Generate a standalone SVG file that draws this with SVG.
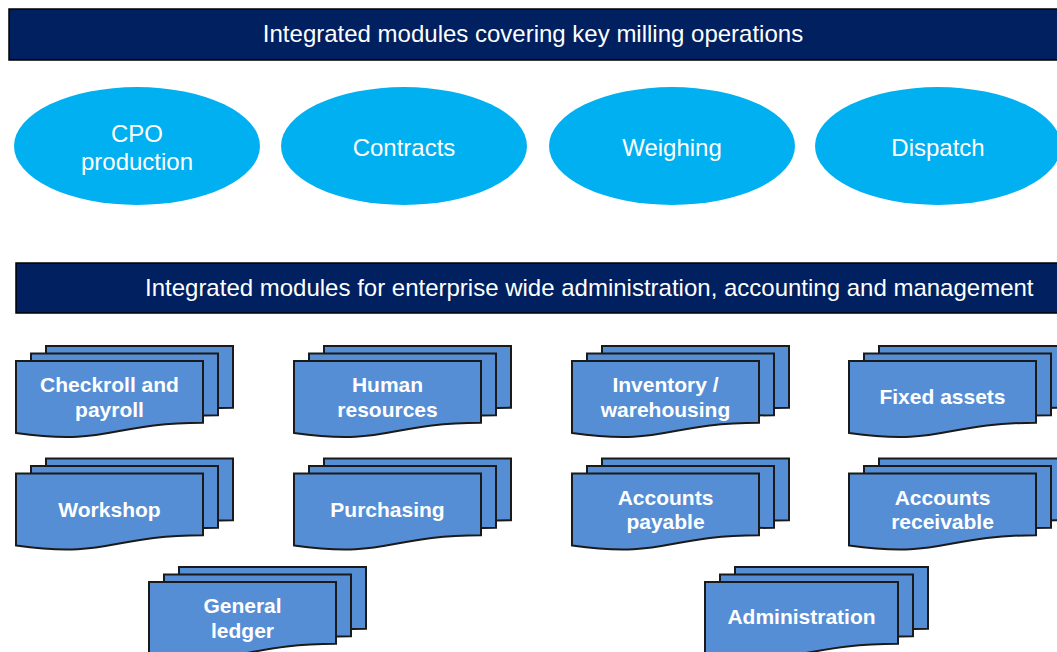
<svg xmlns="http://www.w3.org/2000/svg" xmlns:xlink="http://www.w3.org/1999/xlink" width="1057" height="652" viewBox="0 0 1057 652">
<style>
.banner{fill:#002060;stroke:#000;stroke-width:1.5}
.btxt{font-family:"Liberation Sans",Arial,sans-serif;font-size:24px;fill:#fff}
.oval{fill:#00B0F0}
.otxt{font-family:"Liberation Sans",Arial,sans-serif;font-size:24px;fill:#fff;text-anchor:middle}
.doc{fill:#558ED5;stroke:#1a1a1a;stroke-width:2;stroke-linejoin:miter}
.mtxt{font-family:"Liberation Sans",Arial,sans-serif;font-size:21px;font-weight:bold;fill:#fff;text-anchor:middle}
</style>
<defs>
<path id="doc" class="doc" d="M0,0 H187 V61.75 C93.5,61.75 93.5,85.3 0,71.9 Z"/>
<path id="docw" class="doc" d="M0,0 H193 V61.75 C96.5,61.75 96.5,85.3 0,71.9 Z"/>
</defs>
<rect width="1057" height="652" fill="#fff"/>
<g id="banner-top">
<rect class="banner" x="9" y="9" width="1060" height="51"/>
<text class="btxt" x="533" y="42" text-anchor="middle">Integrated modules covering key milling operations</text>
</g>
<g id="oval-cpo"><ellipse class="oval" cx="137" cy="146" rx="123" ry="59"/><text class="otxt" x="137" y="142">CPO</text><text class="otxt" x="137" y="170">production</text></g>
<g id="oval-contracts"><ellipse class="oval" cx="404" cy="146" rx="123" ry="59"/><text class="otxt" x="404" y="156">Contracts</text></g>
<g id="oval-weighing"><ellipse class="oval" cx="672" cy="146" rx="123" ry="59"/><text class="otxt" x="672" y="156">Weighing</text></g>
<g id="oval-dispatch"><ellipse class="oval" cx="938" cy="146" rx="123" ry="59"/><text class="otxt" x="938" y="156">Dispatch</text></g>
<g id="banner-admin">
<rect class="banner" x="16" y="263" width="1060" height="50"/>
<text class="btxt" x="145" y="296">Integrated modules for enterprise wide administration, accounting and management</text>
</g>
<g id="mod-checkroll">
<use href="#doc" x="46" y="346"/><use href="#doc" x="31" y="353.5"/><use href="#doc" x="16" y="361"/>
<text class="mtxt" x="109.5" y="392">Checkroll and</text><text class="mtxt" x="109.5" y="417">payroll</text>
</g>
<g id="mod-hr">
<use href="#doc" x="324" y="346"/><use href="#doc" x="309" y="353.5"/><use href="#doc" x="294" y="361"/>
<text class="mtxt" x="387.5" y="392">Human</text><text class="mtxt" x="387.5" y="417">resources</text>
</g>
<g id="mod-inventory">
<use href="#doc" x="602" y="346"/><use href="#doc" x="587" y="353.5"/><use href="#doc" x="572" y="361"/>
<text class="mtxt" x="665.5" y="392">Inventory /</text><text class="mtxt" x="665.5" y="417">warehousing</text>
</g>
<g id="mod-fixed">
<use href="#doc" x="879" y="346"/><use href="#doc" x="864" y="353.5"/><use href="#doc" x="849" y="361"/>
<text class="mtxt" x="942.5" y="404">Fixed assets</text>
</g>
<g id="mod-workshop">
<use href="#doc" x="46" y="458.5"/><use href="#doc" x="31" y="466"/><use href="#doc" x="16" y="473.5"/>
<text class="mtxt" x="109.5" y="517">Workshop</text>
</g>
<g id="mod-purchasing">
<use href="#doc" x="324" y="458.5"/><use href="#doc" x="309" y="466"/><use href="#doc" x="294" y="473.5"/>
<text class="mtxt" x="387.5" y="517">Purchasing</text>
</g>
<g id="mod-payable">
<use href="#doc" x="602" y="458.5"/><use href="#doc" x="587" y="466"/><use href="#doc" x="572" y="473.5"/>
<text class="mtxt" x="665.5" y="505">Accounts</text><text class="mtxt" x="665.5" y="529">payable</text>
</g>
<g id="mod-receivable">
<use href="#doc" x="879" y="458.5"/><use href="#doc" x="864" y="466"/><use href="#doc" x="849" y="473.5"/>
<text class="mtxt" x="942.5" y="505">Accounts</text><text class="mtxt" x="942.5" y="529">receivable</text>
</g>
<g id="mod-ledger">
<use href="#doc" x="179" y="567"/><use href="#doc" x="164" y="574.5"/><use href="#doc" x="149" y="582"/>
<text class="mtxt" x="242.5" y="613">General</text><text class="mtxt" x="242.5" y="638">ledger</text>
</g>
<g id="mod-admin">
<use href="#docw" x="735" y="567"/><use href="#docw" x="720" y="574.5"/><use href="#docw" x="705" y="582"/>
<text class="mtxt" x="801.5" y="624">Administration</text>
</g>
<g id="connectors"/>
</svg>
